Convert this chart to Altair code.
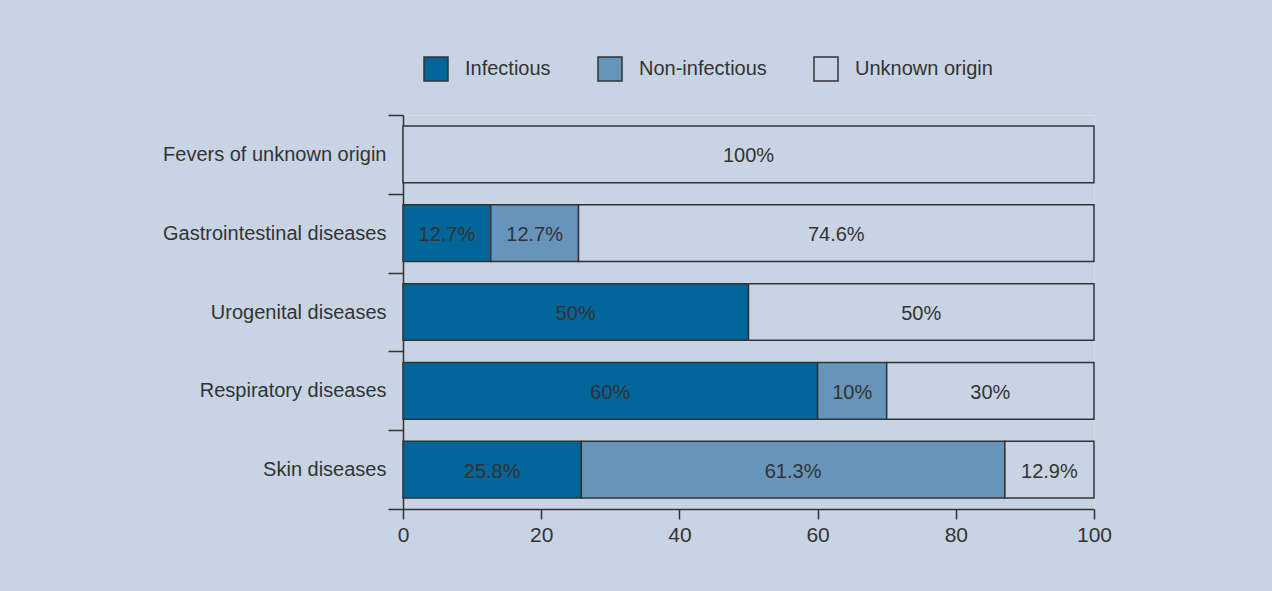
import altair as alt
import pandas as pd

categories = ["Fevers of unknown origin", "Gastrointestinal diseases",
              "Urogenital diseases", "Respiratory diseases", "Skin diseases"]
series = ["Infectious", "Non-infectious", "Unknown origin"]
infectious = [0, 12.7, 50, 60, 25.8]
non_infectious = [0, 12.7, 0, 10, 61.3]
unknown = [100, 74.6, 50, 30, 12.9]
x_ticks = [0, 20, 40, 60, 80, 100]
colors = ["#006699", "#6794bb", "#c8d4e4"]

rows = []
for i, c in enumerate(categories):
    for j, vals in enumerate([infectious, non_infectious, unknown]):
        v = vals[i]
        if v > 0:
            rows.append({"category": c, "series": series[j], "order": j,
                         "value": v, "label": f"{v:g}%"})
df = pd.DataFrame(rows)

FONT = "Liberation Sans"
INK = "#333333"

base = alt.Chart(df).transform_stack(
    stack="value", groupby=["category"], as_=["x0", "x1"],
    sort=[alt.SortField("order", order="ascending")]
).transform_calculate(mid="(datum.x0 + datum.x1) / 2")

y_enc = alt.Y("category:N", sort=categories,
              scale=alt.Scale(paddingInner=0, paddingOuter=0),
              axis=alt.Axis(title=None, tickBand="extent", tickSize=15,
                            labelPadding=2, labelFontSize=20, labelColor=INK,
                            labelFont=FONT, domainColor=INK, tickColor=INK,
                            domainWidth=1.5, tickWidth=1.5, labelLimit=400))

bars = base.mark_bar(stroke=INK, strokeWidth=1.5,
                     height=alt.RelativeBandSize(0.72)).encode(
    x=alt.X("x0:Q", scale=alt.Scale(domain=[0, 100], nice=False),
            axis=alt.Axis(title=None, values=x_ticks, grid=False, tickSize=10,
                          labelFontSize=21, labelColor=INK, labelFont=FONT,
                          labelPadding=5, labelFlush=False, domainColor=INK,
                          tickColor=INK, domainWidth=1.5, tickWidth=1.5)),
    x2="x1:Q",
    y=y_enc,
    color=alt.Color("series:N",
                    scale=alt.Scale(domain=series, range=colors),
                    legend=alt.Legend(title=None, orient="none", direction="horizontal",
                                      legendX=20, legendY=-59, symbolType="square",
                                      symbolSize=576, symbolStrokeColor=INK,
                                      symbolStrokeWidth=1.5, symbolOpacity=1,
                                      labelFontSize=20, labelColor=INK, labelFont=FONT,
                                      labelOffset=16, columnPadding=44, padding=0)),
)

labels = base.mark_text(fontSize=20, color=INK, font=FONT, dy=2).encode(
    x="mid:Q",
    y=alt.Y("category:N", sort=categories),
    text="label:N",
)

chart = alt.layer(bars, labels).properties(
    width=691, height=394,
    autosize=alt.AutoSizeParams(type="none"),
    padding={"left": 403, "top": 115, "right": 178, "bottom": 82},
    background="#c8d4e4",
).configure_view(fill="white", stroke=None).configure(font=FONT)

chart.save("out.html", embed_options={"renderer": "svg", "actions": False})
